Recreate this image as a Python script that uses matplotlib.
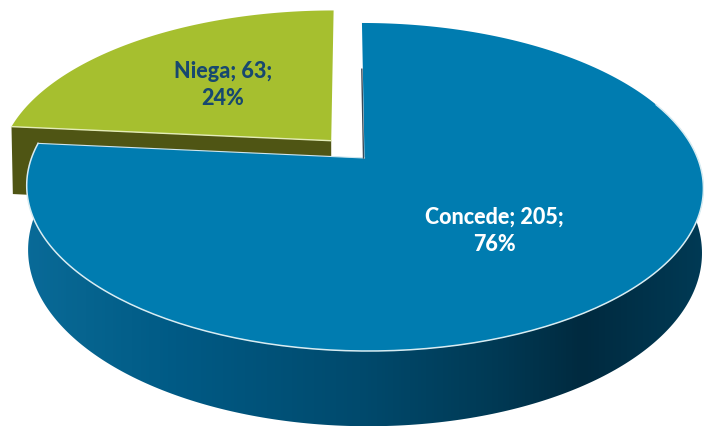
import numpy as np
import matplotlib
matplotlib.use('Agg')
import matplotlib.pyplot as plt
from matplotlib.colors import LinearSegmentedColormap
from matplotlib.patches import Polygon

categories = ['Concede', 'Niega']
counts = [205, 63]
percents = [76, 24]

# view of the tilted disc, in pixels
CX, CY = 364.5, 159
RX, RY = 333, 158.9
PERSP = 0.1768
SHEAR = -3.0
DEPTH = 63
SHRINK = 0.004
EXPLODE = 0.15


def project(x, v, depth=0):
    # x, v on the unit disc, depth > 0 gives the base of the wall
    s = 1 / (1 + PERSP * v + (SHRINK if depth else 0))
    px = CX + (x * RX + SHEAR * v) * s
    py = CY - (v * RY - depth) * s
    return px, py


def rim(a0, a1, ox=0, ov=0, depth=0):
    # angles clockwise from 12 o'clock, degrees
    a = np.radians(np.linspace(a0, a1, 240))
    return np.column_stack(project(np.sin(a) + ox, np.cos(a) + ov, depth))


def main():
    fig = plt.figure(figsize=(7.04, 4.27), dpi=100)
    ax = fig.add_axes([0, 0, 1, 1])
    ax.set_xlim(0, 704)
    ax.set_ylim(427, 0)
    ax.axis('off')

    split = 360 * counts[0] / sum(counts)
    mid = np.radians((split + 360) / 2)
    ox, ov = EXPLODE * np.sin(mid), EXPLODE * np.cos(mid)

    # green slice, pulled out
    g_top = rim(split, 360, ox, ov)
    g_apex = np.array(project(ox, ov))
    g_apex_low = np.array(project(ox, ov, DEPTH + 7))
    g_left_low = np.array(project(np.sin(np.radians(split)) + ox, np.cos(np.radians(split)) + ov, DEPTH + 7))
    ax.add_patch(Polygon([g_apex, g_top[0], g_left_low, g_apex_low], fc='#4f5514', ec='none', zorder=1))
    ax.add_patch(Polygon(np.vstack([g_apex, g_top]), fc='#a6bf2f', ec='none', zorder=2))
    ax.plot([g_apex[0], g_top[0][0]], [g_apex[1], g_top[0][1]], color='#e4ecb8', lw=1, zorder=3)

    # blue wall with the shading running left to right
    wall = np.vstack([rim(80, split), rim(80, split, depth=DEPTH)[::-1]])
    cmap = LinearSegmentedColormap.from_list('wall', [
        (0.00, '#0a6d9c'), (0.12, '#06648f'), (0.25, '#005a85'), (0.51, '#004a6d'),
        (0.70, '#003a55'), (0.83, '#002a3f'), (1.00, '#003a55')])
    im = ax.imshow(np.linspace(0, 1, 704).reshape(1, -1), cmap=cmap, extent=(0, 704, 427, 0),
                   aspect='auto', zorder=4)
    clip = Polygon(wall, transform=ax.transData, fc='none', ec='none')
    ax.add_patch(clip)
    im.set_clip_path(clip)

    # blue top face
    b_top = rim(0, split)
    b_apex = np.array(project(0, 0))
    ax.add_patch(Polygon(np.vstack([b_apex, b_top]), fc='#007cb0', ec='none', zorder=5))
    ax.plot(b_top[:, 0][60:], b_top[:, 1][60:], color='#d8ecf2', lw=1.1, zorder=6)
    ax.plot([b_apex[0], b_top[-1][0]], [b_apex[1], b_top[-1][1]], color='#cfe6ef', lw=0.8, zorder=6)
    cut = np.array(project(0, 0.62))
    ax.plot([b_apex[0] - 1, cut[0] - 1], [b_apex[1], cut[1]], color='#3b4a58', lw=1, zorder=6)

    ax.text(494, 231, '%s; %d;\n%d%%' % (categories[0], counts[0], percents[0]), color='white',
            family='Lato', weight='black', fontsize=15.5, ha='center', va='center', linespacing=1.35, zorder=7)
    ax.text(223, 85, '%s; %d;\n%d%%' % (categories[1], counts[1], percents[1]), color='#17486f',
            family='Lato', weight='black', fontsize=15.5, ha='center', va='center', linespacing=1.35, zorder=7)

    fig.savefig('out.png', dpi=100)


main()
